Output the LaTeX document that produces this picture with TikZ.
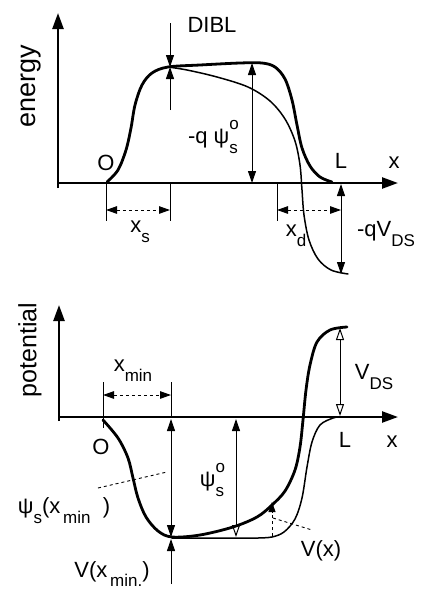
\documentclass[tikz,border=0pt]{standalone}
\usepackage{fontspec}
\setmainfont{Liberation Sans}
\usetikzlibrary{arrows.meta}
\newcommand{\lo}[1]{\raisebox{-0.45em}{\fontsize{17}{17}\selectfont #1}}
\newcommand{\hi}[1]{\raisebox{0.6em}{\fontsize{17}{17}\selectfont #1}}
\begin{document}
\begin{tikzpicture}[x=1pt,y=-1pt,
  axis/.style={line width=2.4pt,-{Triangle[length=16pt,width=11pt]}},
  bigcurve/.style={line width=2.8pt,line cap=round,line join=round},
  smallcurve/.style={line width=1.5pt,line cap=round,line join=round},
  ticks/.style={line width=1pt},
  dimarrow/.style={line width=1pt,dashed,{Triangle[length=11pt,width=7.5pt]}-{Triangle[length=11pt,width=7.5pt]}},
  both/.style={line width=1pt,{Triangle[length=12pt,width=8pt]}-{Triangle[length=12pt,width=8pt]}},
  bothopen/.style={line width=1pt,{Triangle[open,length=12pt,width=8pt]}-{Triangle[open,length=12pt,width=8pt]}},
  one/.style={line width=1pt,-{Triangle[length=12pt,width=8pt]}},
  leader/.style={line width=0.9pt,dashed},
  lbl/.style={font=\fontsize{22}{22}\selectfont,inner sep=0pt}
]
\useasboundingbox (0,0) rectangle (421,605);

% ================= TOP: energy =================
\coordinate (tO) at (58,183);
\coordinate (tXend) at (398,183);
\coordinate (tYend) at (58,13);
\draw[axis] (58,188) -- (tYend);
\draw[axis] (tO) -- (tXend);

\node[lbl,rotate=90] (energy) at (31,86) {\fontsize{27}{27}\selectfont energy};
\node[lbl] (tOlbl) at (106,163) {O};
\node[lbl] (tLlbl) at (341,161) {L};
\node[lbl] (txlbl) at (394,163) {x};

% thick curve
\draw[bigcurve] plot[smooth,tension=0.55] coordinates {
 (107,182) (118,170) (126,150) (131,128) (135,105) (142,85) (152,73) (168,67)
 (200,65) (240,63) (262,63) (275,67) (285,79) (292,100) (297,125) (302,148)
 (310,166) (320,177) (332,182)};
% thin curve
\draw[smallcurve] plot[smooth,tension=0.55] coordinates {
 (168,67) (187,70) (217,77) (248,87) (270,101) (285,119) (295,141) (300,165)
 (302,190) (304,215) (309,240) (318,259) (331,270) (348,274)};

% DIBL
\coordinate (dTop) at (170,23);
\coordinate (dPeak) at (170,67);
\coordinate (dBot) at (170,110);
\draw[one] (dTop) -- (dPeak);
\draw[one] (dBot) -- (dPeak);
\node[lbl] (dibl) at (212,25) {DIBL};

% -q psi_s^o
\coordinate (pTop) at (252,63);
\coordinate (pBot) at (252,183);
\draw[both] (pTop) -- (pBot);
\node[lbl] (qpsi) at (213,137) {-q ψ\rlap{\hi{o}}\lo{s}};

% x_s
\coordinate (xs1a) at (106,183); \coordinate (xs1b) at (106,221);
\coordinate (xs2a) at (170,183); \coordinate (xs2b) at (170,221);
\draw[ticks] (xs1a) -- (xs1b);
\draw[ticks] (xs2a) -- (xs2b);
\coordinate (xsL) at (106,210); \coordinate (xsR) at (170,210);
\draw[dimarrow] (xsL) -- (xsR);
\node[lbl] (xslbl) at (140,232) {x\lo{s}};

% x_d
\coordinate (xd1a) at (277,183); \coordinate (xd1b) at (277,221);
\draw[ticks] (xd1a) -- (xd1b);
\coordinate (xdL) at (277,210); \coordinate (xdR) at (341,210);
\draw[dimarrow] (xdL) -- (xdR);
\node[lbl] (xdlbl) at (296,236) {x\lo{d}};

% -qV_DS
\coordinate (vdsTop) at (341,184);
\coordinate (vdsBot) at (341,274);
\draw[both] (vdsTop) -- (vdsBot);
\node[lbl] (qvds) at (386,234) {-qV\lo{DS}};

% ================= BOTTOM: potential =================
\coordinate (bO) at (59,417);
\coordinate (bXend) at (398,417);
\coordinate (bYend) at (59,305);
\draw[axis] (59,421) -- (bYend);
\draw[axis] (bO) -- (bXend);

\node[lbl,rotate=90] (potential) at (30,350) {\fontsize{25}{25}\selectfont potential};
\node[lbl] (bOlbl) at (101,447) {O};
\node[lbl] (bLlbl) at (345,440) {L};
\node[lbl] (bxlbl) at (392,442) {x};

% thick curve psi_s
\draw[bigcurve] plot[smooth,tension=0.55] coordinates {
 (103,420) (118,438) (128,458) (133,478) (138,498) (146,517) (158,531) (172,537)
 (200,535) (233,527) (257,517) (272,505) (285,491) (295,470) (300,447) (303,420)
 (306,390) (310,365) (317,342) (330,330) (347,327)};
% thin curve V(x)
\draw[smallcurve] (172,538) -- (258,538) plot[smooth,tension=0.55] coordinates {
 (258,538) (272,537) (284,532) (295,519) (302,498) (307,467) (312,442) (320,425) (333,418) (338,417)};

% x_min
\coordinate (xm1a) at (103,382); \coordinate (xm1b) at (103,428);
\coordinate (xm2a) at (171,382); \coordinate (xm2b) at (171,417);
\draw[ticks] (xm1a) -- (xm1b);
\draw[ticks] (xm2a) -- (xm2b);
\coordinate (xmL) at (103,395); \coordinate (xmR) at (171,395);
\draw[dimarrow] (xmL) -- (xmR);
\node[lbl] (xminlbl) at (133,371) {x\lo{min}};

% psi_s(x_min) arrow
\coordinate (amTop) at (171,419);
\coordinate (amBot) at (171,537);
\draw[both] (amTop) -- (amBot);
\coordinate (lmA) at (98,488); \coordinate (lmB) at (167,472);
\draw[leader] (lmA) -- (lmB);
\node[lbl] (psixmin) at (64,511) {ψ\lo{s}(x\lo{\,min}\ \ )};

% V(x_min)
\coordinate (vmBot) at (171,584);
\coordinate (vmTop) at (171,539);
\draw[one] (vmBot) -- (vmTop);
\node[lbl] (vxmin) at (112,574) {V(x\lo{\,min.})};

% psi_s^o
\coordinate (psTop) at (236,419);
\coordinate (psBot) at (236,537);
\draw[line width=1pt,{Triangle[length=12pt,width=8pt]}-{Triangle[open,length=12pt,width=8pt]}] (psTop) -- (psBot);
\node[lbl] (psio) at (212,480) {ψ\rlap{\hi{o}}\lo{s}};

% V(x)
\coordinate (vxBot) at (272,536);
\coordinate (vxTop) at (272,502);
\draw[leader,-{Triangle[length=10pt,width=7pt]}] (vxBot) -- (vxTop);
\coordinate (lvA) at (273,518); \coordinate (lvB) at (312,530);
\draw[leader] (lvA) -- (lvB);
\node[lbl] (vxlbl) at (321,551) {V(x)};

% V_DS
\coordinate (vTop) at (340,328);
\coordinate (vBot) at (340,416);
\draw[bothopen] (vTop) -- (vBot);
\node[lbl] (vdslbl) at (374,377) {V\lo{DS}};
\end{tikzpicture}
\end{document}
